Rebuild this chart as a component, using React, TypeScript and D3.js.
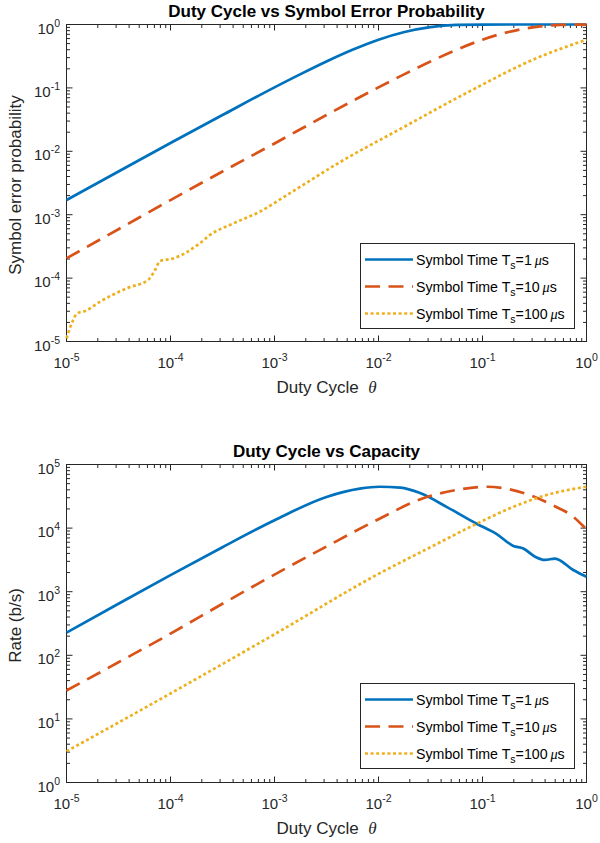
import React from 'react';
import * as d3 from 'd3';

// ---------- tick data ----------
const thetaTicks = [1e-5, 1e-4, 1e-3, 1e-2, 1e-1, 1];
const thetaTickExps = ['-5', '-4', '-3', '-2', '-1', '0'];
const serTicks = [1e-5, 1e-4, 1e-3, 1e-2, 1e-1, 1];
const serTickExps = ['-5', '-4', '-3', '-2', '-1', '0'];
const rateTicks = [1, 10, 100, 1e3, 1e4, 1e5];
const rateTickExps = ['0', '1', '2', '3', '4', '5'];

const symbolTimes = ['1', '10', '100'];

// ---------- Symbol error probability ----------
const serX1 = [1e-5, 3.16e-5, 1e-4, 3.16e-4, 1e-3, 1.78e-3, 3.16e-3, 5.62e-3, 1e-2, 1.78e-2, 3.16e-2, 5.62e-2, 0.1, 0.316, 1];
const serY1 = [1.7e-3, 4.8e-3, 1.35e-2, 3.73e-2, 0.102, 0.165, 0.261, 0.399, 0.576, 0.763, 0.911, 0.983, 0.999, 1, 1];

const serX10 = [1e-5, 3.16e-5, 1e-4, 3.16e-4, 1e-3, 3.16e-3, 1e-2, 1.78e-2, 3.16e-2, 5.62e-2, 0.1, 0.178, 0.316, 0.562, 1];
const serY10 = [2.05e-4, 5.9e-4, 1.7e-3, 4.8e-3, 1.33e-2, 3.73e-2, 0.102, 0.165, 0.261, 0.399, 0.576, 0.763, 0.911, 0.983, 0.996];

const serX100 = [1e-5, 1.12e-5, 1.26e-5, 1.56e-5, 2.09e-5, 3.8e-5, 6.17e-5, 7.08e-5, 7.94e-5, 1.06e-4, 1.92e-4, 2.4e-4, 3.98e-4, 7.24e-4, 1.41e-3, 3.98e-3, 1.74e-2, 7.59e-2, 0.332, 1];
const serY100 = [1.12e-5, 1.91e-5, 2.75e-5, 3.09e-5, 4.22e-5, 6.92e-5, 9.55e-5, 1.33e-4, 1.86e-4, 2.04e-4, 3.55e-4, 4.79e-4, 7.24e-4, 1.12e-3, 2.19e-3, 6.31e-3, 2.4e-2, 8.91e-2, 0.295, 0.575];

// ---------- Rate (b/s) ----------
const rateX1 = [1e-5, 3.16e-5, 1e-4, 3.16e-4, 1e-3, 3.16e-3, 6.61e-3, 1.02e-2, 1.62e-2, 2.51e-2, 4.51e-2, 8.79e-2, 0.137, 0.198, 0.247, 0.32, 0.398, 0.498, 0.745, 1];
const rateY1 = [227, 646, 1820, 5010, 13300, 30900, 41700, 44700, 43200, 35500, 21600, 11700, 8040, 5250, 4790, 3550, 3160, 3310, 2190, 1720];

const rateX10 = [1e-5, 3.16e-5, 1e-4, 3.16e-4, 1e-3, 3.16e-3, 1e-2, 2.69e-2, 5.62e-2, 0.11, 0.182, 0.283, 0.474, 0.745, 1];
const rateY10 = [27.9, 77.6, 219, 646, 1860, 5130, 13800, 29500, 39800, 44700, 40700, 33100, 22900, 15100, 9550];

const rateX100 = [1e-5, 1e-4, 1e-3, 1e-2, 3.16e-2, 8.79e-2, 0.198, 0.412, 1];
const rateY100 = [3.09, 25.1, 214, 1905, 5010, 11700, 21600, 33100, 44700];

// ---------- styling ----------
const W = 600;
const H = 843;
const X0 = 66.5;
const X1 = 586.5;
const AX = '#262626';
const FONT = "'Liberation Sans', Arial, Helvetica, sans-serif";
const SERIF = "'Liberation Serif', 'DejaVu Serif', serif";
const COLORS = ['#0072BD', '#D95319', '#EDB120'];
const DASHES = ['none', '15,8.5', '3,2.6'];
const LW = 2.7;

type Series = { xs: number[]; ys: number[] };

function Panel(props: {
  id: string;
  y0: number;
  y1: number;
  title: string;
  yLabel: string;
  yDomain: [number, number];
  yTicks: number[];
  yExps: string[];
  series: Series[];
  legendTop: number;
}) {
  const { id, y0, y1, title, yLabel, yDomain, yTicks, yExps, series, legendTop } = props;
  const x = d3.scaleLog().domain([1e-5, 1]).range([X0, X1]);
  const y = d3.scaleLog().domain(yDomain).range([y1, y0]);
  const xMinor = x.ticks().filter((t) => !thetaTicks.some((m) => Math.abs(Math.log10(t) - Math.log10(m)) < 1e-6));
  const yMinor = y.ticks().filter((t) => !yTicks.some((m) => Math.abs(Math.log10(t) - Math.log10(m)) < 1e-6));
  const line = d3
    .line<[number, number]>()
    .x((d) => x(d[0]))
    .y((d) => y(d[1]))
    .curve(d3.curveMonotoneX);
  const MAJ = 6;
  const MIN = 3.5;
  const cx = (X0 + X1) / 2;
  const cy = (y0 + y1) / 2;

  const legW = 214;
  const legX = 360.5;
  const legH = 85;
  const rowOffsets = [16, 43, 70];

  return (
    <g>
      <defs>
        <clipPath id={id}>
          <rect x={X0 - 2} y={y0 - 2} width={X1 - X0 + 4} height={y1 - y0 + 4} />
        </clipPath>
      </defs>
      <rect x={X0} y={y0} width={X1 - X0} height={y1 - y0} fill="#fff" stroke={AX} strokeWidth={1} />
      {thetaTicks.map((t, i) => (
        <g key={'xt' + i}>
          <line x1={x(t)} x2={x(t)} y1={y1} y2={y1 - MAJ} stroke={AX} />
          <line x1={x(t)} x2={x(t)} y1={y0} y2={y0 + MAJ} stroke={AX} />
          <text x={x(t)} y={y1 + 26.5} textAnchor="middle" fill={AX} fontFamily={FONT} fontSize={15}>
            10
            <tspan dy={-7} fontSize={10.5}>{thetaTickExps[i]}</tspan>
          </text>
        </g>
      ))}
      {xMinor.map((t, i) => (
        <g key={'xm' + i}>
          <line x1={x(t)} x2={x(t)} y1={y1} y2={y1 - MIN} stroke={AX} />
          <line x1={x(t)} x2={x(t)} y1={y0} y2={y0 + MIN} stroke={AX} />
        </g>
      ))}
      {yTicks.map((t, i) => (
        <g key={'yt' + i}>
          <line x1={X0} x2={X0 + MAJ} y1={y(t)} y2={y(t)} stroke={AX} />
          <line x1={X1} x2={X1 - MAJ} y1={y(t)} y2={y(t)} stroke={AX} />
          <text x={X0 - 6.5} y={y(t) + 9} textAnchor="end" fill={AX} fontFamily={FONT} fontSize={15}>
            10
            <tspan dy={-7} fontSize={10.5}>{yExps[i]}</tspan>
          </text>
        </g>
      ))}
      {yMinor.map((t, i) => (
        <g key={'ym' + i}>
          <line x1={X0} x2={X0 + MIN} y1={y(t)} y2={y(t)} stroke={AX} />
          <line x1={X1} x2={X1 - MIN} y1={y(t)} y2={y(t)} stroke={AX} />
        </g>
      ))}
      <g clipPath={`url(#${id})`}>
        {series.map((s, i) => (
          <path
            key={'s' + i}
            d={line(s.xs.map((v, j) => [v, s.ys[j]] as [number, number])) || ''}
            fill="none"
            stroke={COLORS[i]}
            strokeWidth={LW}
            strokeDasharray={DASHES[i]}
            strokeLinejoin="round"
          />
        ))}
      </g>
      <text x={cx} y={y0 - 8} textAnchor="middle" fontFamily={FONT} fontSize={17} fontWeight="bold" fill="#000">
        {title}
      </text>
      <text x={cx} y={y1 + 51} textAnchor="middle" fontFamily={FONT} fontSize={17} fill={AX}>
        Duty Cycle{'\u00a0\u00a0'}
        <tspan fontFamily={SERIF} fontStyle="italic">θ</tspan>
      </text>
      <text
        transform={`translate(21,${cy + 2}) rotate(-90)`}
        textAnchor="middle"
        fontFamily={FONT}
        fontSize={17}
        fill={AX}
      >
        {yLabel}
      </text>
      <rect x={legX} y={legendTop} width={legW} height={legH} fill="#fff" stroke={AX} strokeWidth={1} />
      {symbolTimes.map((ts, i) => {
        const ry = legendTop + rowOffsets[i];
        return (
          <g key={'lg' + i}>
            <line x1={365} x2={413} y1={ry} y2={ry} stroke={COLORS[i]} strokeWidth={LW} strokeDasharray={DASHES[i]} />
            <text x={416} y={ry + 5} fontFamily={FONT} fontSize={14.2} fill="#000">
              Symbol Time T
              <tspan dy={4} fontSize={10.5}>s</tspan>
              <tspan dy={-4}>={ts}{'\u2009'}</tspan>
              <tspan fontFamily={SERIF} fontStyle="italic">μ</tspan>
              <tspan>s</tspan>
            </text>
          </g>
        );
      })}
    </g>
  );
}

export default function App() {
  return (
    <svg
      width={W}
      height={H}
      viewBox={`0 0 ${W} ${H}`}
      style={{ position: 'absolute', left: 0, top: 0, background: '#fff' }}
    >
      <rect x={0} y={0} width={W} height={H} fill="#fff" />
      <Panel
        id="clipTop"
        y0={24.5}
        y1={341.5}
        title="Duty Cycle vs Symbol Error Probability"
        yLabel="Symbol error probability"
        yDomain={[1e-5, 1]}
        yTicks={serTicks}
        yExps={serTickExps}
        series={[
          { xs: serX1, ys: serY1 },
          { xs: serX10, ys: serY10 },
          { xs: serX100, ys: serY100 },
        ]}
        legendTop={243.5}
      />
      <Panel
        id="clipBottom"
        y0={464.5}
        y1={782.5}
        title="Duty Cycle vs Capacity"
        yLabel="Rate (b/s)"
        yDomain={[1, 1e5]}
        yTicks={rateTicks}
        yExps={rateTickExps}
        series={[
          { xs: rateX1, ys: rateY1 },
          { xs: rateX10, ys: rateY10 },
          { xs: rateX100, ys: rateY100 },
        ]}
        legendTop={683.5}
      />
    </svg>
  );
}
